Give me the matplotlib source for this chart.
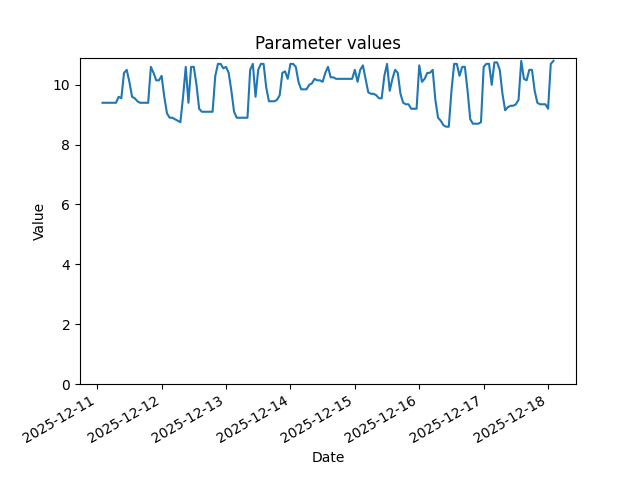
import numpy as np
import pandas as pd
import matplotlib
matplotlib.use('Agg')
import matplotlib.pyplot as plt


# hourly readings, starting 2025-12-11 02:00
start = '2025-12-11 02:00'
values = [
    9.4, 9.4, 9.4, 9.4, 9.4, 9.4, 9.6, 9.55, 10.4, 10.5,      # 02-11
    10.1, 9.6, 9.55, 9.45, 9.4, 9.4, 9.4, 9.4, 10.6, 10.4,    # 12-21
    10.15, 10.15,                                             # 22-23
    10.3, 9.6, 9.05, 8.9, 8.9, 8.85, 8.8, 8.75, 9.6, 10.6,    # 12-12 00-09
    9.4, 10.6, 10.6, 10.0, 9.2, 9.1, 9.1, 9.1, 9.1, 9.1,
    10.3, 10.7, 10.7, 10.55,
    10.6, 10.4, 9.8, 9.1, 8.9, 8.9, 8.9, 8.9, 8.9, 10.5,      # 12-13
    10.7, 9.6, 10.5, 10.7, 10.7, 9.9, 9.45, 9.45, 9.45, 9.5,
    9.65, 10.4, 10.45, 10.2,
    10.7, 10.7, 10.6, 10.1, 9.85, 9.85, 9.85, 10.0, 10.05, 10.2,   # 12-14
    10.15, 10.15, 10.1, 10.4, 10.6, 10.25, 10.25, 10.2, 10.2, 10.2,
    10.2, 10.2, 10.2, 10.2,
    10.5, 10.1, 10.5, 10.65, 10.2, 9.75, 9.7, 9.7, 9.65, 9.55,     # 12-15
    9.55, 10.3, 10.7, 9.8, 10.2, 10.5, 10.4, 9.7, 9.4, 9.35,
    9.35, 9.2, 9.2, 9.2,
    10.65, 10.1, 10.2, 10.4, 10.4, 10.5, 9.5, 8.9, 8.8, 8.65,      # 12-16
    8.6, 8.6, 9.8, 10.7, 10.7, 10.3, 10.6, 10.6, 9.8, 8.85,
    8.7, 8.7, 8.7, 8.75,
    10.6, 10.7, 10.7, 10.0, 10.75, 10.75, 10.5, 9.7, 9.15, 9.25,   # 12-17
    9.3, 9.3, 9.35, 9.5, 10.8, 10.2, 10.15, 10.5, 10.5, 9.8,
    9.4, 9.35, 9.35, 9.35,
    9.2, 10.7, 10.8,                                               # 12-18
]
dates = pd.date_range(start, periods=len(values), freq='h')


fig, ax = plt.subplots()
ax.plot(dates, values)
ax.set_ylim(bottom=0)
ax.set_title('Parameter values')
ax.set_xlabel('Date')
ax.set_ylabel('Value')
fig.autofmt_xdate()
plt.savefig('out.png')
plt.close('all')
